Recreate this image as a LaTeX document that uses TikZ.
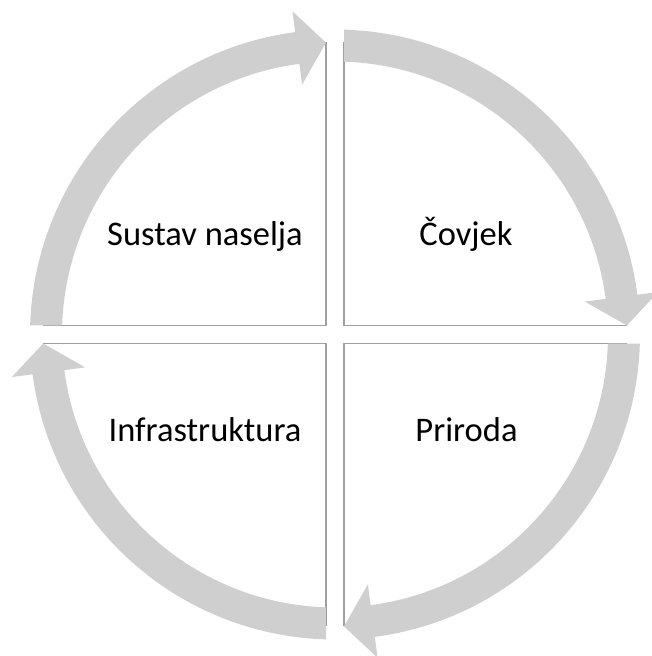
\documentclass[tikz,border=0pt]{standalone}
\usepackage{fontspec}
\setmainfont{Carlito}
\usepackage{tikz}
\usetikzlibrary{calc}
\tikzset{
  ringarrow/.style={fill={rgb,255:red,207;green,207;blue,207}},
  quadline/.style={draw={rgb,255:red,160;green,160;blue,160}, line width=1.2pt},
  celltext/.style={font=\fontsize{34.5}{41}\selectfont, anchor=base, inner sep=0pt}
}

\begin{document}
\begin{tikzpicture}[x=1pt,y=1pt]
    \useasboundingbox (0,0) rectangle (651,656);
    \coordinate (c) at (335,321.5);

    % inner edges of the four cells
    \begin{scope}[shift={(c)}, quadline]
      \draw (-292,9) -- (-9,9) -- (-9,292);
      \draw (9,292) -- (9,9) -- (292,9);
      \draw (292,-9) -- (9,-9) -- (9,-292);
      \draw (-9,-292) -- (-9,-9) -- (-292,-9);
    \end{scope}

    % curved arrows round the cells
    \begin{scope}[shift={(c)}, ringarrow]
      \fill (88.3:305) arc[start angle=88.3, end angle=7.5, radius=305] -- (7.5:326) -- (1.77:292)
        -- (7.5:252) -- (7.5:273) arc[start angle=7.5, end angle=88.1, radius=273] -- cycle;
      \fill[rotate=-90] (88.3:305) arc[start angle=88.3, end angle=7.5, radius=305] -- (7.5:326) -- (1.77:292)
        -- (7.5:252) -- (7.5:273) arc[start angle=7.5, end angle=88.1, radius=273] -- cycle;
      \fill[rotate=-180] (88.3:305) arc[start angle=88.3, end angle=7.5, radius=305] -- (7.5:326) -- (1.77:292)
        -- (7.5:252) -- (7.5:273) arc[start angle=7.5, end angle=88.1, radius=273] -- cycle;
      \fill[rotate=90] (88.3:305) arc[start angle=88.3, end angle=7.5, radius=305] -- (7.5:326) -- (1.77:292)
        -- (7.5:252) -- (7.5:273) arc[start angle=7.5, end angle=88.1, radius=273] -- cycle;
    \end{scope}

    \begin{scope}[celltext]
      \node (naselja) at (205,410.5) {Sustav naselja};
      \node (covjek) at (466,410.5) {Čovjek};
      \node (infra) at (205,214) {Infrastruktura};
      \node (priroda) at (466.5,214) {Priroda};
    \end{scope}
\end{tikzpicture}
\end{document}
